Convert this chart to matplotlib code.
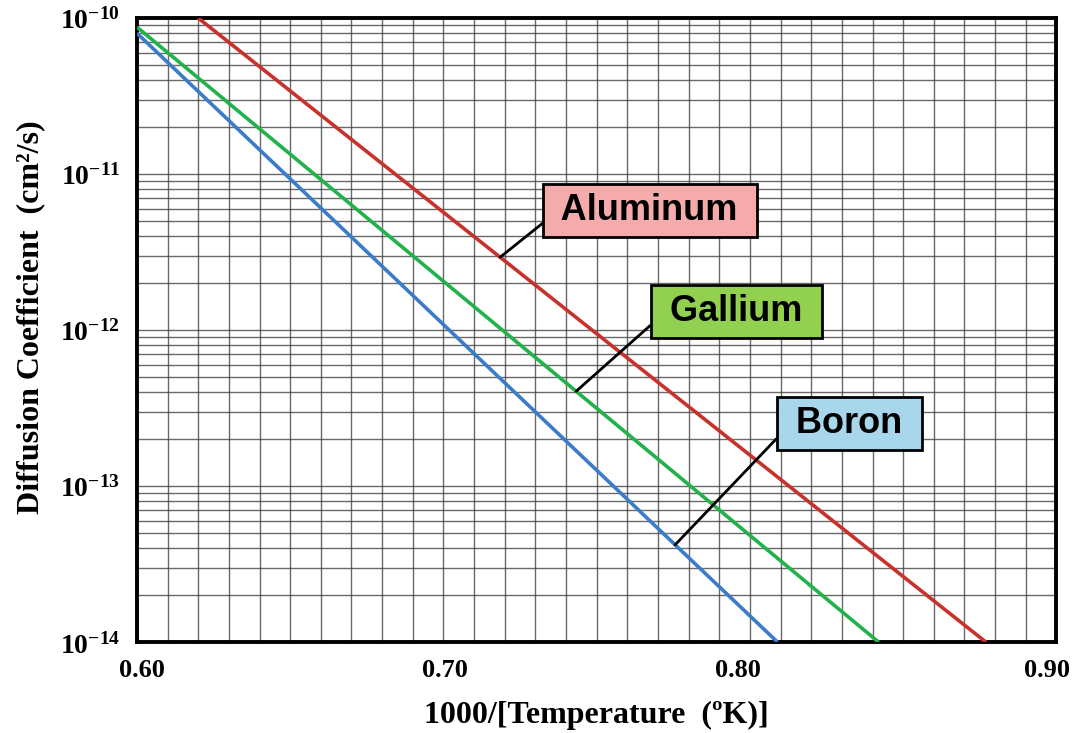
import matplotlib
matplotlib.use("Agg")
import matplotlib.pyplot as plt
import matplotlib.transforms as mtransforms
import numpy as np
from matplotlib.ticker import MultipleLocator, LogLocator, FixedLocator, NullFormatter

# straight lines on the Arrhenius plot: end points
names = ["Aluminum", "Gallium", "Boron"]
x_start = [0.620, 0.600, 0.600]
d_start = [1.0e-10, 8.75e-11, 8.0e-11]
x_end = [0.877, 0.842, 0.809]
d_end = [1.0e-14, 1.0e-14, 1.0e-14]

line_colors = ["#C8322D", "#22B24C", "#3A7CC8"]
box_colors = ["#F5AAAC", "#92D050", "#A8D6EA"]

x_ticks = [0.60, 0.70, 0.80, 0.90]
x_ticklabels = ["0.60", "0.70", "0.80", "0.90"]
y_exponents = [-14, -13, -12, -11, -10]

# where the leader lines touch each curve, and box centres (axes fraction)
leader_x = [0.7185, 0.7433, 0.7756]
box_pos = [(0.558, 0.692), (0.652, 0.530), (0.775, 0.351)]

plt.rcParams["mathtext.fontset"] = "custom"
plt.rcParams["mathtext.bf"] = "Liberation Serif:bold"
plt.rcParams["mathtext.rm"] = "Liberation Serif:bold"

fig = plt.figure(figsize=(10.78, 7.33), dpi=100)
ax = fig.add_axes([0.127, 0.124, 0.853, 0.8514])

for i in range(3):
    ax.plot([x_start[i], x_end[i]], [d_start[i], d_end[i]], color=line_colors[i],
            lw=2.6, solid_capstyle="butt", zorder=3)

ax.set_yscale("log")
ax.set_xlim(0.60, 0.90)
ax.set_ylim(1e-14, 1e-10)

ax.xaxis.set_major_locator(FixedLocator(x_ticks))
ax.xaxis.set_minor_locator(MultipleLocator(0.01))
ax.set_xticklabels(x_ticklabels)
ax.yaxis.set_major_locator(FixedLocator([10.0 ** e for e in y_exponents]))
ax.yaxis.set_minor_locator(LogLocator(base=10, subs=np.arange(2, 10), numticks=20))
ax.yaxis.set_minor_formatter(NullFormatter())
ax.set_yticklabels([r"$\mathbf{10^{%d}}$" % e for e in y_exponents])

ax.grid(True, which="both", color="#444444", lw=1.0, alpha=0.8, zorder=1)
ax.set_axisbelow(True)
ax.tick_params(axis="x", which="both", length=0, pad=12)
ax.tick_params(axis="y", which="both", length=0, pad=12)

# small sideways nudges of the x tick labels, as in the reference
nudges = [5, 2, -12, -9]
for lab, dx in zip(ax.get_xticklabels(), nudges):
    lab.set_fontfamily("Liberation Serif")
    lab.set_fontweight("bold")
    lab.set_fontsize(19)
    lab.set_transform(lab.get_transform() +
                      mtransforms.ScaledTranslation(dx / 100, 0, fig.dpi_scale_trans))
for lab in ax.get_yticklabels():
    lab.set_fontsize(20)

for s in ax.spines.values():
    s.set_linewidth(2.8)
    s.set_color("black")

ax.set_xlabel("1000/[Temperature  (ºK)]", family="Liberation Serif",
              fontweight="bold", fontsize=23, labelpad=14)
ax.set_ylabel("Diffusion Coefficient  (cm²/s)", family="Liberation Serif",
              fontweight="bold", fontsize=23)
ax.yaxis.set_label_coords(-0.100, 0.52)

for i in range(3):
    lx = leader_x[i]
    frac = (lx - x_start[i]) / (x_end[i] - x_start[i])
    ly = 10 ** (np.log10(d_start[i]) + frac * (np.log10(d_end[i]) - np.log10(d_start[i])))
    ax.annotate(" " + names[i] + " ", xy=(lx, ly), xycoords="data",
                xytext=box_pos[i], textcoords="axes fraction",
                ha="center", va="center", fontsize=26, fontweight="bold",
                family="Liberation Sans",
                bbox=dict(boxstyle="square,pad=0.25", fc=box_colors[i], ec="black", lw=2),
                arrowprops=dict(arrowstyle="-", color="black", lw=2,
                                shrinkA=0, shrinkB=0, relpos=(0, 0.35)),
                zorder=5)

fig.savefig("out.png", dpi=100)
